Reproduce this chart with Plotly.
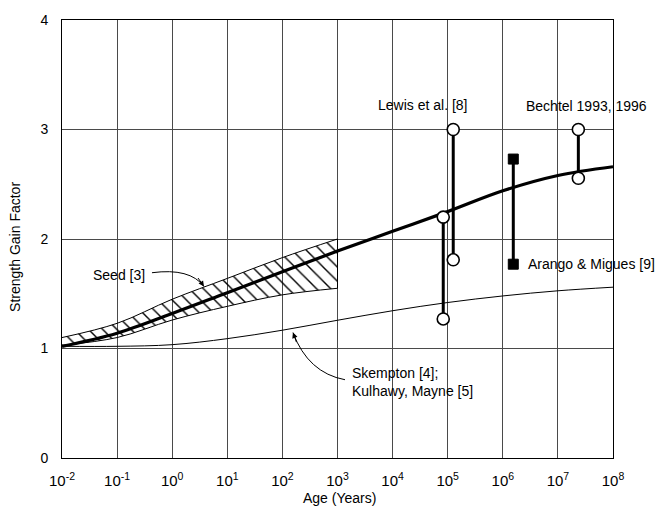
import math
import plotly.graph_objects as go

# ---- data -----------------------------------------------------------------
decades = [1e-2, 1e-1, 1e0, 1e1, 1e2, 1e3, 1e4, 1e5, 1e6, 1e7, 1e8]

# main trend (heavy line)
trend = [1.02, 1.14, 1.32, 1.51, 1.70, 1.89, 2.07, 2.25, 2.44, 2.58, 2.66]

# Skempton / Kulhawy-Mayne (light line)
skempton = [1.02, 1.02, 1.035, 1.09, 1.167, 1.258, 1.345, 1.42, 1.48, 1.527, 1.56]

# Seed band (hatched), defined up to 10^3 years
seed_age = [1e-2, 1e-1, 1e0, 1e1, 1e2, 1e3]
seed_upper = [1.10, 1.23, 1.45, 1.64, 1.83, 2.00]
seed_lower = [1.03, 1.10, 1.26, 1.385, 1.49, 1.55]

# field observations (age, low value, high value)
lewis_age = [8.3e4, 1.26e5]
lewis_low = [1.27, 1.81]
lewis_high = [2.20, 3.00]

arango_age = 1.55e6
arango_low, arango_high = 1.77, 2.73

bechtel_age = 2.35e7
bechtel_low, bechtel_high = 2.555, 3.00

tick_exps = list(range(-2, 9))
tick_text = [f"10<sup>{k}</sup>" for k in tick_exps]

FONT = "Liberation Sans, Arial, Helvetica, sans-serif"

# ---- helpers: data -> paper fractions (x log range -2..8, y range 0..4) ----
def xp(age):
    return (math.log10(age) + 2) / 10.0

def yp(v):
    return v / 4.0

fig = go.Figure()

# Seed band: lower edge, then upper edge filled down to it with hatching
fig.add_trace(go.Scatter(
    x=seed_age, y=seed_lower, mode="lines", line=dict(color="black", width=1, shape="spline"),
    hoverinfo="skip", showlegend=False))
fig.add_trace(go.Scatter(
    x=seed_age, y=seed_upper, mode="lines", line=dict(color="black", width=1, shape="spline"),
    fill="tonexty", fillcolor="rgba(0,0,0,0)",
    fillpattern=dict(shape="\\", size=10, solidity=0.14, fgcolor="black", fgopacity=1),
    hoverinfo="skip", showlegend=False))
fig.add_trace(go.Scatter(
    x=[seed_age[-1], seed_age[-1]], y=[seed_lower[-1], seed_upper[-1]], mode="lines",
    line=dict(color="black", width=1), hoverinfo="skip", showlegend=False))

# light Skempton curve
fig.add_trace(go.Scatter(
    x=decades, y=skempton, mode="lines", line=dict(color="black", width=1, shape="spline"),
    showlegend=False))

# heavy trend curve
fig.add_trace(go.Scatter(
    x=decades, y=trend, mode="lines", line=dict(color="black", width=3.2, shape="spline"),
    showlegend=False))

open_marker = dict(symbol="circle", size=12, color="white", line=dict(color="black", width=1.6))

for a, lo, hi in zip(lewis_age, lewis_low, lewis_high):
    fig.add_trace(go.Scatter(
        x=[a, a], y=[lo, hi], mode="lines+markers", line=dict(color="black", width=3),
        marker=open_marker, showlegend=False))

fig.add_trace(go.Scatter(
    x=[bechtel_age, bechtel_age], y=[bechtel_low, bechtel_high], mode="lines+markers",
    line=dict(color="black", width=3), marker=open_marker, showlegend=False))

fig.add_trace(go.Scatter(
    x=[arango_age, arango_age], y=[arango_low, arango_high], mode="lines+markers",
    line=dict(color="black", width=3),
    marker=dict(symbol="square", size=10, color="black", line=dict(color="black", width=1)),
    showlegend=False))

# ---- labels -----------------------------------------------------------------
txt = dict(family=FONT, size=14, color="black")
annotations = [
    dict(x=xp(10 ** 4.552), y=yp(3.222), text="Lewis et al. [8]", xanchor="center"),
    dict(x=xp(10 ** 6.385), y=yp(3.213), text="Bechtel 1993, 1996", xanchor="left"),
    dict(x=xp(10 ** 6.42), y=yp(arango_low), text="Arango &amp; Migues [9]", xanchor="left"),
    dict(x=xp(10 ** -0.46), y=yp(1.674), text="Seed [3]", xanchor="right"),
    dict(x=xp(10 ** 3.227), y=yp(0.697), text="Skempton [4];<br>Kulhawy, Mayne [5]",
         xanchor="left", align="left"),
]
for a in annotations:
    a.update(xref="paper", yref="paper", yanchor="middle", showarrow=False, font=txt)

# axis titles
annotations.append(dict(x=-0.0853, y=0.482, xref="paper", yref="paper", text="Strength Gain Factor",
                        textangle=-90, showarrow=False, font=txt, xanchor="center", yanchor="middle"))
annotations.append(dict(x=(339 - 62) / 551, y=-(498 - 458) / 442, xref="paper", yref="paper",
                        text="Age (Years)", showarrow=False, font=txt,
                        xanchor="center", yanchor="middle"))

# curved leader arrows (quadratic curves in log-age / value space)
seed_arrow = [(10 ** -0.367, 1.692), (10 ** 0.323, 1.738), (10 ** 0.577, 1.566)]
skem_arrow = [(10 ** 3.136, 0.715), (10 ** 2.465, 0.778), (10 ** 2.192, 1.145)]

shapes = []
for pts, (ax, ay) in ((seed_arrow, (-7, -10)), (skem_arrow, (4, 11))):
    (a0, v0), (a1, v1), (a2, v2) = pts
    path = (f"M {xp(a0):.4f},{yp(v0):.4f} Q {xp(a1):.4f},{yp(v1):.4f} "
            f"{xp(a2):.4f},{yp(v2):.4f}")
    shapes.append(dict(type="path", path=path, xref="paper", yref="paper",
                       line=dict(color="black", width=1)))
    annotations.append(dict(x=xp(a2), y=yp(v2), xref="paper", yref="paper", text="",
                            showarrow=True, arrowhead=2, arrowsize=1.1, arrowwidth=1,
                            arrowcolor="black", ax=ax, ay=ay, standoff=0))

grid = "#4a4a4a"
fig.update_layout(
    width=657, height=508,
    margin=dict(l=62, r=44, t=16, b=50),
    paper_bgcolor="white", plot_bgcolor="white",
    font=txt,
    showlegend=False,
    annotations=annotations,
    shapes=shapes,
    xaxis=dict(
        type="log", range=[-2, 8], tickvals=[10 ** k for k in tick_exps], ticktext=tick_text,
        showgrid=True, gridcolor=grid, gridwidth=1,
        showline=True, linecolor="black", linewidth=1, mirror=True,
        ticks="", ticklabelstandoff=9, zeroline=False,
        tickfont=dict(family=FONT, size=15, color="black"),
    ),
    yaxis=dict(
        range=[0, 4], dtick=1, tick0=0,
        showgrid=True, gridcolor=grid, gridwidth=1,
        showline=True, linecolor="black", linewidth=1, mirror=True,
        ticks="", ticklabelstandoff=10, zeroline=False,
        tickfont=dict(family=FONT, size=14, color="black"),
    ),
)

fig.write_html("out.html")
